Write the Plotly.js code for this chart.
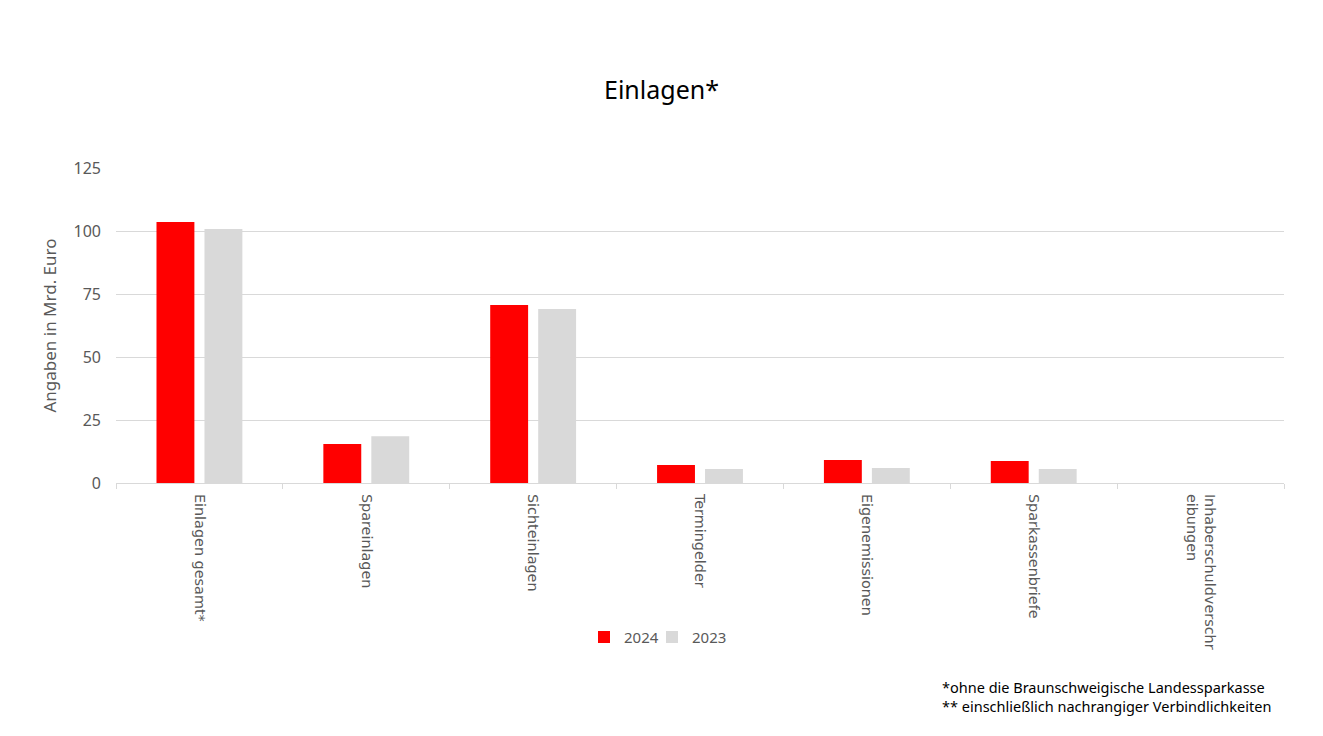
<!DOCTYPE html>
<html>
<head>
<meta charset="utf-8">
<script src="https://cdn.plot.ly/plotly-3.0.1.min.js"></script>
<style>html,body{margin:0;padding:0;background:#fff;}#chart{width:1323px;height:736px;}</style>
</head>
<body>
<div id="chart"></div>
<script>
const categories = ["Einlagen gesamt*", "Spareinlagen", "Sichteinlagen", "Termingelder", "Eigenemissionen", "Sparkassenbriefe", "Inhaberschuldverschr<br>eibungen"];
const values2024 = [103.6, 15.5, 70.6, 7.1, 9.1, 8.7, 0];
const values2023 = [100.8, 18.6, 69.0, 5.6, 6.0, 5.6, 0];
const yTicks = [0, 25, 50, 75, 100, 125];

const FONT = "Noto Sans, Open Sans, sans-serif";
const traces = [
  {type: "bar", name: "2024", x: categories, y: values2024, marker: {color: "#ff0000"}, hoverinfo: "y", legend: "legend"},
  {type: "bar", name: "2023", x: categories, y: values2023, marker: {color: "#d9d9d9"}, hoverinfo: "y", legend: "legend2"}
];
const legendBase = {orientation: "h", y: -0.49, yanchor: "middle", xanchor: "left", font: {size: 15, color: "#595959"}, itemwidth: 30, tracegroupgap: 0, bgcolor: "rgba(0,0,0,0)"};
const layout = {
  width: 1323, height: 736,
  margin: {l: 116, r: 39, t: 168, b: 253},
  paper_bgcolor: "#fff", plot_bgcolor: "#fff",
  font: {family: FONT, color: "#595959", size: 14},
  title: {text: "Einlagen*", x: 0.5, xanchor: "center", y: 0.877, yanchor: "middle", font: {family: FONT, size: 25, color: "#000"}},
  barmode: "group", bargap: 0.425, bargroupgap: 0.21,
  showlegend: true,
  legend: Object.assign({}, legendBase, {x: (584-116)/1168}),
  legend2: Object.assign({}, legendBase, {x: (652-116)/1168}),
  xaxis: {
    type: "category", tickangle: 90, tickfont: {family: "DejaVu Sans, sans-serif", size: 14.4, color: "#595959"},
    showline: true, linecolor: "#d9d9d9", linewidth: 1,
    ticks: "outside", tickson: "boundaries", ticklen: 5, tickcolor: "#d9d9d9",
    ticklabelstandoff: 7,
    showgrid: false, fixedrange: true
  },
  yaxis: {
    range: [0, 125], tickvals: yTicks, ticktext: yTicks.map(String),
    showgrid: true, gridcolor: "#d9d9d9", gridwidth: 1, zeroline: false,
    showline: false, ticks: "", ticklabelstandoff: 14,
    tickfont: {size: 16, color: "#595959"},
    title: {text: "Angaben in Mrd. Euro", font: {size: 17, color: "#595959"}, standoff: 12},
    fixedrange: true
  },
  annotations: [
    {xref: "paper", yref: "paper", x: (940-116)/1168, y: (483-696)/315, xanchor: "left", yanchor: "middle", align: "left", showarrow: false,
     text: "*ohne die Braunschweigische Landessparkasse<br>** einschließlich nachrangiger Verbindlichkeiten", font: {size: 14.5, color: "#000", family: FONT}}
  ]
};
Plotly.newPlot("chart", traces, layout, {displayModeBar: false, responsive: false});
</script>
</body>
</html>
